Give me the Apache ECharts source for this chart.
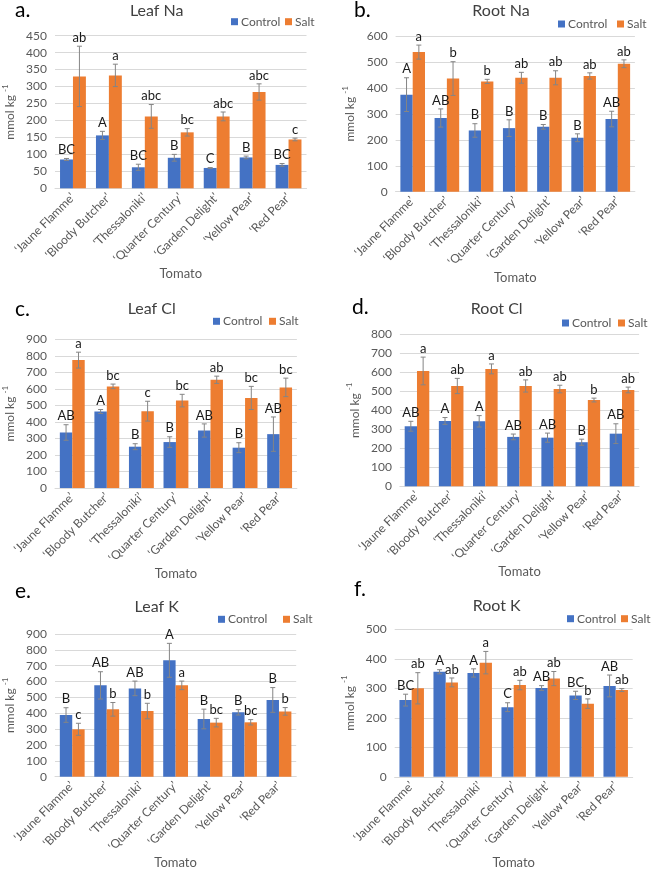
<!DOCTYPE html>
<html><head><meta charset="utf-8">
<script src="https://cdn.jsdelivr.net/npm/echarts@6/dist/echarts.min.js"></script>
<style>html,body{margin:0;padding:0;background:#fff}#c{width:652px;height:872px}</style>
</head><body><div id="c"></div>
<script>
const categories = ['‘Jaune Flamme’','‘Bloody Butcher’','‘Thessaloniki’','‘Quarter Century’','‘Garden Delight’','‘Yellow Pear’','‘Red Pear’'];

const leafNaControl = [85,156,62,90,60,91,69];
const leafNaControlErr = [3,12,9,10,1,4,4];
const leafNaSalt = [330,333,212,165,212,284,144];
const leafNaSaltErr = [89,33,35,11,13,24,4];
const leafNaControlLetters = ['BC','A','BC','B','C','B','BC'];
const leafNaSaltLetters = ['ab','a','abc','bc','abc','abc','c'];

const rootNaControl = [374,284,236,245,250,208,280];
const rootNaControlErr = [65,35,26,32,9,15,30];
const rootNaSalt = [538,436,425,439,439,446,493];
const rootNaSaltErr = [27,65,8,21,27,12,15];
const rootNaControlLetters = ['A','AB','B','B','B','B','AB'];
const rootNaSaltLetters = ['a','b','b','ab','ab','ab','ab'];

const leafClControl = [336,463,250,278,348,244,326];
const leafClControlErr = [47,12,18,32,40,30,104];
const leafClSalt = [774,615,465,529,655,545,609];
const leafClSaltErr = [48,14,60,38,22,70,56];
const leafClControlLetters = ['AB','A','B','B','AB','B','AB'];
const leafClSaltLetters = ['a','bc','c','bc','ab','bc','bc'];

const rootClControl = [316,344,342,260,256,232,277];
const rootClControlErr = [26,18,30,15,24,16,52];
const rootClSalt = [607,528,618,528,512,454,507];
const rootClSaltErr = [73,40,26,32,20,10,15];
const rootClControlLetters = ['AB','A','A','AB','AB','B','AB'];
const rootClSaltLetters = ['a','ab','a','ab','ab','b','ab'];

const leafKControl = [389,576,557,734,364,406,484];
const leafKControlErr = [46,86,46,107,62,17,78];
const leafKSalt = [299,425,414,576,341,343,412];
const leafKSaltErr = [38,43,49,27,27,17,24];
const leafKControlLetters = ['B','AB','AB','A','B','B','B'];
const leafKSaltLetters = ['c','b','b','a','bc','bc','b'];

const rootKControl = [260,356,352,236,301,276,308];
const rootKControlErr = [20,7,14,15,8,14,37];
const rootKSalt = [300,320,387,311,333,248,294];
const rootKSaltErr = [53,15,38,16,24,16,5];
const rootKControlLetters = ['BC','A','A','C','AB','BC','AB'];
const rootKSaltLetters = ['ab','ab','a','ab','ab','b','ab'];

const yMax = [450,600,900,800,900,500];
const yInterval = [50,100,100,100,100,100];
const titles = ['Leaf Na','Root Na','Leaf Cl','Root Cl','Leaf K','Root K'];
const panelLetters = ['a.','b.','c.','d.','e.','f.'];

const panelData = [
  [leafNaControl,leafNaControlErr,leafNaControlLetters,leafNaSalt,leafNaSaltErr,leafNaSaltLetters],
  [rootNaControl,rootNaControlErr,rootNaControlLetters,rootNaSalt,rootNaSaltErr,rootNaSaltLetters],
  [leafClControl,leafClControlErr,leafClControlLetters,leafClSalt,leafClSaltErr,leafClSaltLetters],
  [rootClControl,rootClControlErr,rootClControlLetters,rootClSalt,rootClSaltErr,rootClSaltLetters],
  [leafKControl,leafKControlErr,leafKControlLetters,leafKSalt,leafKSaltErr,leafKSaltLetters],
  [rootKControl,rootKControlErr,rootKControlLetters,rootKSalt,rootKSaltErr,rootKSaltLetters]
];

// layout
const layout = [
  {left:51, top:35.7, width:255.5, height:152.6, tx:156.7, ty:11.7, lx:15, ly:12.7, gx:231, sx:285, gy:22.7, xng:74},
  {left:395.6, top:36, width:239.3, height:155.7, tx:501, ty:11.7, lx:354, ly:12.7, gx:558, sx:617, gy:25, xng:74},
  {left:50.7, top:339.3, width:246.2, height:148.7, tx:151.7, ty:310, lx:15, ly:311.7, gx:213, sx:269, gy:322.3, xng:74},
  {left:399.9, top:334.3, width:239.2, height:152, tx:496.7, ty:310, lx:352, ly:310, gx:562, sx:618, gy:324, xng:76},
  {left:51.5, top:634, width:244.7, height:142.7, tx:156.7, ty:608.3, lx:15, ly:593.3, gx:218, sx:283, gy:620.3, xng:78},
  {left:394.7, top:629.3, width:238, height:147.5, tx:496.7, ty:607.3, lx:354, ly:591.7, gx:567, sx:621, gy:619.7, xng:80}
];
const FONT = 'Lato, "Open Sans", sans-serif';
const GAP = 0.28;
const TXT = '#595959';

const grid=[], xAxis=[], yAxis=[], series=[], title=[], legend=[];
layout.forEach((L,i)=>{
  grid.push({left:L.left, top:L.top, width:L.width, height:L.height});
  xAxis.push({type:'category', gridIndex:i, data:categories,
    axisTick:{show:false}, axisLine:{lineStyle:{color:'#d9d9d9'}},
    axisLabel:{rotate:45, interval:0, fontSize:12, color:TXT, margin:7, fontFamily:FONT},
    name:'Tomato', nameLocation:'middle', nameGap:L.xng,
    nameTextStyle:{fontSize:13, color:TXT, fontFamily:FONT}});
  yAxis.push({type:'value', gridIndex:i, min:0, max:yMax[i], interval:yInterval[i],
    axisLine:{show:false}, axisTick:{show:false},
    splitLine:{lineStyle:{color:'#d9d9d9'}},
    axisLabel:{fontSize:12, color:TXT, margin:8, fontFamily:FONT},
    name:'{a|mmol kg }{s|-1}', nameLocation:'middle', nameGap:39, nameRotate:90,
    nameTextStyle:{color:TXT, fontFamily:FONT, rich:{a:{fontSize:12, color:TXT, fontFamily:FONT, lineHeight:15, verticalAlign:'bottom'}, s:{fontSize:8, color:TXT, fontFamily:FONT, verticalAlign:'top', lineHeight:15}}}});
  const d = panelData[i];
  const groups = [{name:'Control', color:'#4472C4', v:d[0], e:d[1], t:d[2], sign:-1, lx:L.gx},
                  {name:'Salt', color:'#ED7D31', v:d[3], e:d[4], t:d[5], sign:1, lx:L.sx}];
  groups.forEach(g=>{
    series.push({type:'bar', name:g.name, xAxisIndex:i, yAxisIndex:i, data:g.v,
      barGap:'0%', barCategoryGap:(GAP*100)+'%', itemStyle:{color:g.color}, animation:false});
  });
  groups.forEach(g=>{
    series.push({type:'custom', name:g.name+'_err', xAxisIndex:i, yAxisIndex:i, z:5, animation:false,
      data:g.v.map((v,k)=>[k,v,g.e[k]]),
      encode:{x:0,y:1},
      renderItem:(params, api)=>{
        const k = api.value(0), m = api.value(1), e = api.value(2);
        const band = api.size([1,0])[0];
        const off = g.sign*band*(1-GAP)/4;
        const top = api.coord([k, m+e]);
        const bot = api.coord([k, m-e]);
        const cx = top[0]+off;
        const st = {stroke:'#858585', lineWidth:1};
        return {type:'group', children:[
          {type:'line', shape:{x1:cx,y1:top[1],x2:cx,y2:bot[1]}, style:st},
          {type:'line', shape:{x1:cx-2.5,y1:top[1],x2:cx+2.5,y2:top[1]}, style:st},
          {type:'line', shape:{x1:cx-2.5,y1:bot[1],x2:cx+2.5,y2:bot[1]}, style:st},
          {type:'text', style:{text:g.t[params.dataIndex], x:cx, y:top[1]-2, textAlign:'center', textVerticalAlign:'bottom', fill:'#1a1a1a', fontSize:13, fontFamily:FONT}}
        ]};
      }});
    legend.push({data:[g.name], left:g.lx, top:L.gy-7, padding:0, itemWidth:7, itemHeight:7,
      icon:'rect', textStyle:{fontSize:12, color:TXT, fontFamily:FONT, padding:[0,0,0,-2]}});
  });
  title.push({text:titles[i], left:L.tx, top:L.ty-9, textAlign:'center', padding:0,
    textStyle:{fontSize:16, fontWeight:'normal', color:'#404040', fontFamily:FONT}});
  title.push({text:panelLetters[i], left:L.lx, top:L.ly-13, padding:0,
    textStyle:{fontSize:21, fontWeight:'normal', color:'#000', fontFamily:FONT}});
});

const chart = echarts.init(document.getElementById('c'), null, {renderer:'canvas'});
chart.setOption({animation:false, grid, xAxis, yAxis, series, title, legend});
</script>
</body></html>
